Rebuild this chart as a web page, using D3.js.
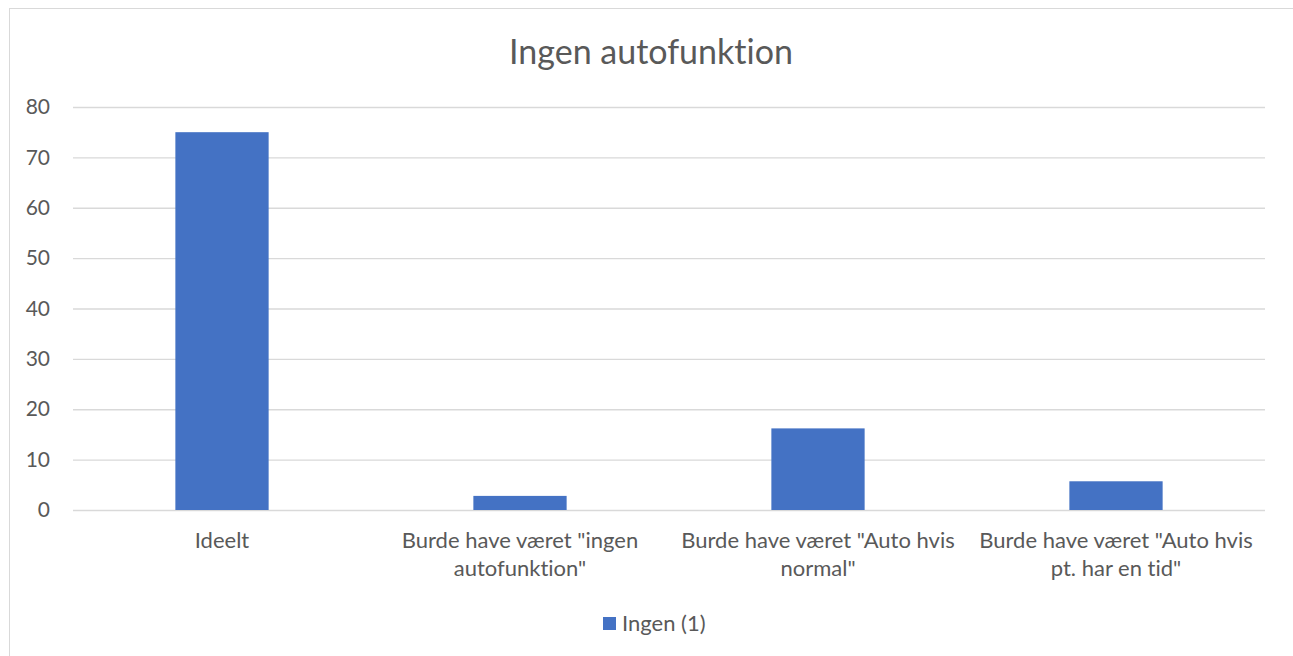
<!DOCTYPE html>
<html>
<head>
<meta charset="utf-8">
<script src="https://cdn.jsdelivr.net/npm/d3@7"></script>
<style>
  body { margin: 0; background: #fff; }
  svg { display: block; }
  svg text { font-family: Lato, "Open Sans", sans-serif; font-variant-ligatures: none; }
</style>
</head>
<body>
<div id="chart"></div>
<script>
const categories = [
  'Ideelt',
  'Burde have været "ingen autofunktion"',
  'Burde have været "Auto hvis normal"',
  'Burde have været "Auto hvis pt. har en tid"'
];
const values = [75, 2.8, 16.2, 5.7];
const yTicks = [0, 10, 20, 30, 40, 50, 60, 70, 80];
const seriesName = 'Ingen (1)';
const title = 'Ingen autofunktion';

const width = 1293;
const height = 656;
const margin = { top: 107, right: 28, bottom: 146, left: 73 };
const textColor = '#595959';

const svg = d3.select('#chart').append('svg')
  .attr('width', width)
  .attr('height', height);

// chart area border
svg.append('rect')
  .attr('x', 9.5).attr('y', 8.5)
  .attr('width', width).attr('height', height)
  .attr('fill', 'none')
  .attr('stroke', '#d9d9d9');

const x = d3.scaleBand()
  .domain(categories)
  .range([margin.left, width - margin.right])
  .paddingInner(0.687)
  .paddingOuter(0.3435);

const y = d3.scaleLinear()
  .domain([0, 80])
  .range([height - margin.bottom, margin.top]);

// gridlines
svg.append('g')
  .selectAll('line')
  .data(yTicks)
  .join('line')
  .attr('x1', margin.left)
  .attr('x2', width - margin.right)
  .attr('y1', d => y(d) + 0.5)
  .attr('y2', d => y(d) + 0.5)
  .attr('stroke', '#d9d9d9')
  .attr('stroke-width', 1.3);

// y axis labels
const yAxis = svg.append('g')
  .attr('transform', `translate(${margin.left}, 0)`)
  .call(d3.axisLeft(y).tickValues(yTicks).tickSize(0).tickPadding(23));
yAxis.attr('font-family', null);
yAxis.select('.domain').remove();
yAxis.selectAll('text')
  .attr('fill', textColor)
  .style('font-size', '21px');

// bars
svg.append('g')
  .selectAll('rect')
  .data(values)
  .join('rect')
  .attr('x', (d, i) => x(categories[i]))
  .attr('y', d => y(d))
  .attr('width', x.bandwidth())
  .attr('height', d => y(0) - y(d))
  .attr('fill', '#4472c4');

// x axis labels
const xAxis = svg.append('g')
  .attr('transform', `translate(0, ${y(0)})`)
  .call(d3.axisBottom(x).tickSize(0).tickPadding(22));
xAxis.attr('font-family', null);
xAxis.select('.domain').remove();
xAxis.selectAll('text')
  .attr('fill', textColor)
  .style('font-size', '22px')
  .call(wrapText, x.step() - 10);

function wrapText(sel, maxWidth) {
  sel.each(function () {
    const text = d3.select(this);
    const words = text.text().split(/\s+/).reverse();
    const yy = text.attr('y');
    const dy = parseFloat(text.attr('dy'));
    let line = [];
    let lineNumber = 0;
    let word;
    let tspan = text.text(null).append('tspan')
      .attr('x', 0).attr('y', yy).attr('dy', dy + 'em');
    while ((word = words.pop())) {
      line.push(word);
      tspan.text(line.join(' '));
      if (tspan.node().getComputedTextLength() > maxWidth && line.length > 1) {
        line.pop();
        tspan.text(line.join(' '));
        line = [word];
        tspan = text.append('tspan')
          .attr('x', 0).attr('y', yy)
          .attr('dy', (++lineNumber * 1.27 + dy) + 'em')
          .text(word);
      }
    }
  });
}

// title
svg.append('text')
  .attr('x', (margin.left + width - margin.right) / 2 - 18)
  .attr('y', 64)
  .attr('text-anchor', 'middle')
  .attr('fill', textColor)
  .style('font-size', '34px')
  .text(title);

// legend
const legend = svg.append('g')
  .attr('transform', 'translate(603, 617)');
legend.append('rect')
  .attr('width', 13).attr('height', 13)
  .attr('fill', '#4472c4');
legend.append('text')
  .attr('x', 19).attr('y', 14)
  .attr('fill', textColor)
  .style('font-size', '22px')
  .text(seriesName);
</script>
</body>
</html>
